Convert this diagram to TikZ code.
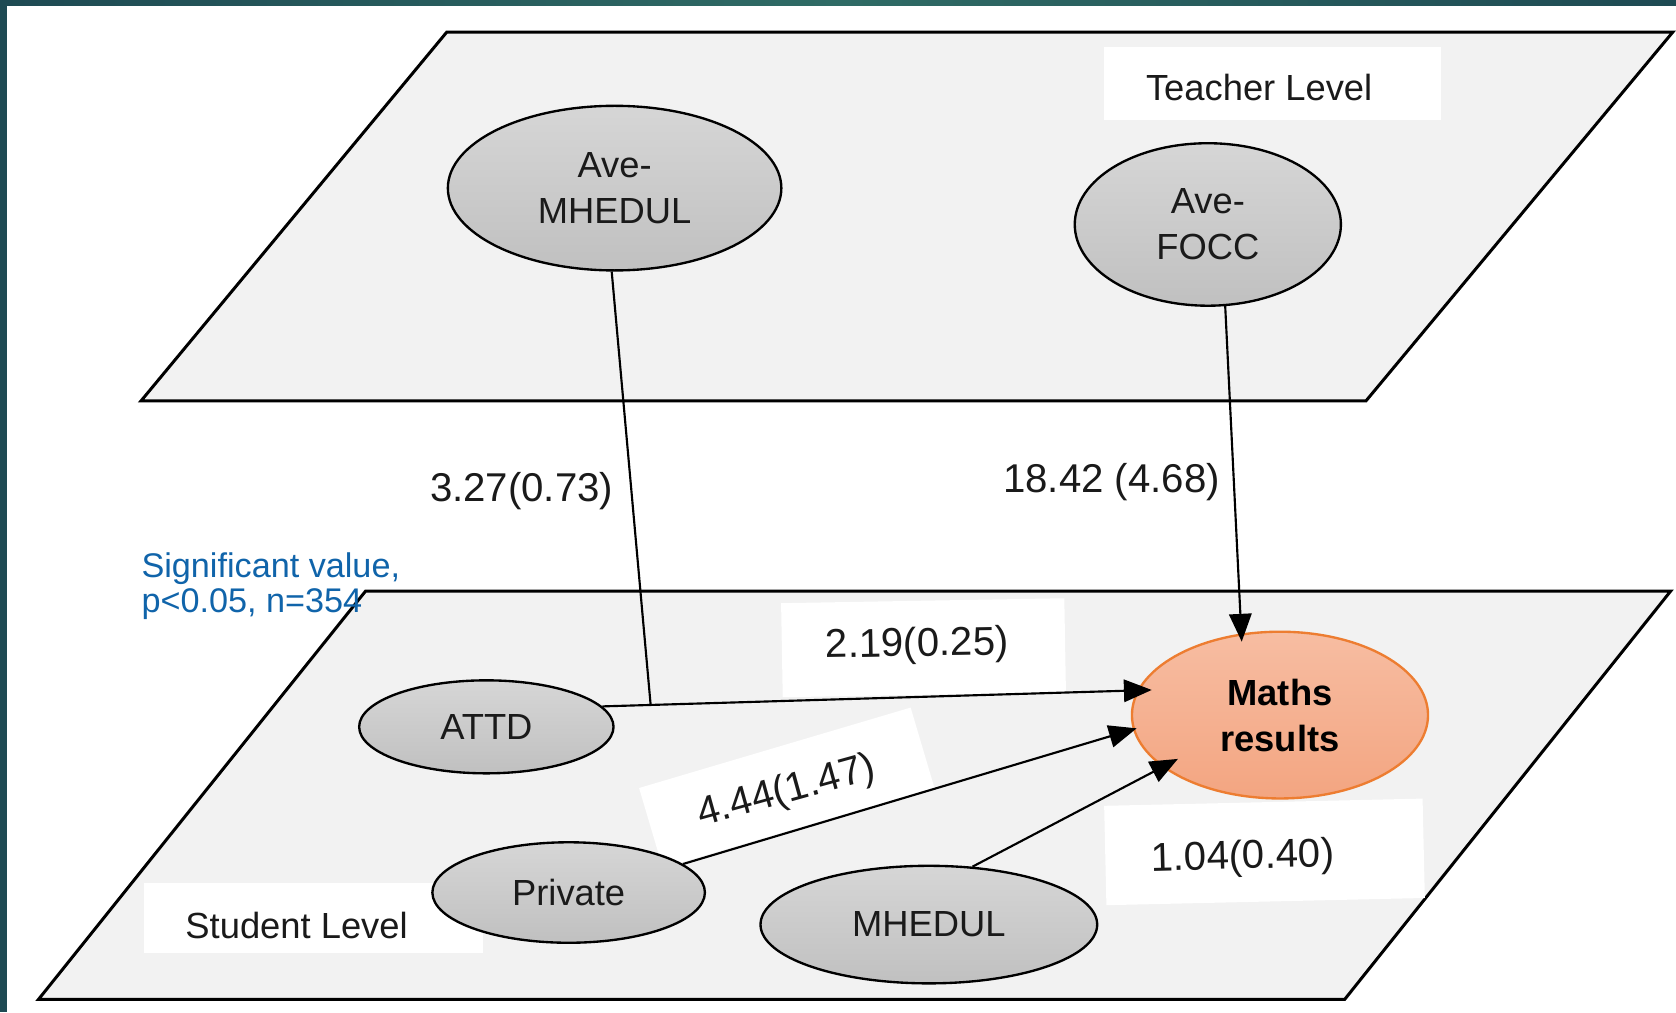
\documentclass[tikz,border=0pt]{standalone}
\usepackage{fontspec}
\setmainfont{Liberation Sans}
\usetikzlibrary{shapes.geometric,arrows.meta,calc}

\definecolor{planefill}{HTML}{F2F2F2}
\definecolor{ellTop}{HTML}{D6D6D6}
\definecolor{ellBot}{HTML}{C0C0C0}
\definecolor{outTop}{HTML}{F7BDA2}
\definecolor{outBot}{HTML}{F3A581}
\definecolor{outLine}{HTML}{ED7D31}
\definecolor{sigBlue}{HTML}{1064AA}
\definecolor{frameDark}{HTML}{1E4A53}
\definecolor{frameLight}{HTML}{2F6B65}
\definecolor{ink}{HTML}{1A1A1A}

\newcommand\lblfont{\fontsize{17}{21.5}\selectfont}
\newcommand\numfont{\fontsize{18.8}{22}\selectfont}
\newcommand\sigfont{\fontsize{16}{16.3}\selectfont}

\begin{document}
\begin{tikzpicture}[x=0.5pt,y=-0.5pt,
  plane/.style={fill=planefill, draw=black, line width=1.4pt, line join=miter},
  var/.style={ellipse, draw=black, line width=1.1pt, top color=ellTop, bottom color=ellBot,
    inner sep=0pt, font=\lblfont, text=ink, align=center},
  outcome/.style={ellipse, draw=outLine, line width=1.1pt, top color=outTop, bottom color=outBot,
    inner sep=0pt, font=\lblfont\bfseries, text=black, align=center},
  lvl/.style={inner sep=0pt, font=\lblfont, text=ink},
  num/.style={inner sep=0pt, font=\numfont, text=ink},
  conn/.style={draw=black, line width=1pt},
  arr/.style={conn, -{Triangle[length=13pt,width=10.5pt]}},
  tagbox/.style={fill=white}
]
% canvas and frame
\fill[white] (0,0) rectangle (1568,947);
\useasboundingbox (0,0) rectangle (1568,947);
\shade[left color=frameDark, right color=frameDark, middle color=frameLight] (0,0) rectangle (1568,4.7);
\fill[frameDark] (0,0) rectangle (6.5,947);

% the two levels
\draw[plane] (418,30) -- (1565,30) -- (1278,375) -- (132,375) -- cycle;
\draw[plane] (342,553) -- (1563,553) -- (1258,935) -- (36,935) -- cycle;

% white label panels
\fill[tagbox] (1033,44) rectangle (1348,112);
\fill[tagbox] (135,826) rectangle (452,892);
\fill[tagbox, rotate around={1:(864,606)}] (731.5,562) rectangle (996.5,650);
\fill[tagbox, rotate around={1.3:(1183,797)}] (1034,750.5) rectangle (1332,843.5);
\fill[tagbox, rotate around={16.5:(736,737)}] (603.5,698) rectangle (868.5,776);

% level names
\node[lvl] (tlevel) at (1178,82) {Teacher Level};
\node[lvl] (slevel) at (277.5,866) {Student Level};

% variables
\node[var, minimum width=156pt, minimum height=77pt] (avem) at (575,176) {\raisebox{-1.5pt}{Ave-}\\\raisebox{-1.5pt}{MHEDUL}};
\node[var, minimum width=124.5pt, minimum height=76pt] (focc) at (1130,210) {\raisebox{-2pt}{Ave-}\\\raisebox{-2pt}{FOCC}};
\node[var, minimum width=119pt, minimum height=43.5pt] (attd) at (455,680) {ATTD};
\node[var, minimum width=127.5pt, minimum height=47pt] (priv) at (532,835) {\raisebox{-1pt}{Private}};
\node[var, minimum width=157.5pt, minimum height=55pt] (mhed) at (869,865) {MHEDUL};
\node[outcome, minimum width=138.5pt, minimum height=78pt] (maths) at (1197.5,669) {\raisebox{-1.5pt}{Maths}\\\raisebox{-1.5pt}{results}};

% paths into the outcome
\coordinate (tipA) at ([shift={(-120,-23.5)}]maths.center);
\coordinate (j) at ($(attd.10.7)!0.088!(tipA)$);
\draw[arr] (attd.10.7) -- (tipA);
\draw[conn] (avem.-92) -- (j);
\draw[arr] (focc.-78) -- ([shift={(-35.8,-68.7)}]maths.center);
\draw[arr] (priv.14.8) -- ([shift={(-134.1,12.4)}]maths.center);
\draw[arr] (mhed.53.3) -- ([shift={(-95.5,41)}]maths.center);

% coefficients
\node[num] (c1) at (488,459) {3.27(0.73)};
\node[num] (c2) at (1040,451) {18.42 (4.68)};
\node[num, rotate=1] (c3) at (858,604) {2.19(0.25)};
\node[num, rotate=15.5] (c4) at (736,741) {4.44(1.47)};
\node[num, rotate=1.5] (c5) at (1162.5,803) {1.04(0.40)};

% note
\node[inner sep=0pt, font=\sigfont, text=sigBlue, align=left, anchor=west] (note) at (132,548)
  {Significant value,\\p<0.05, n=354};
\end{tikzpicture}
\end{document}
